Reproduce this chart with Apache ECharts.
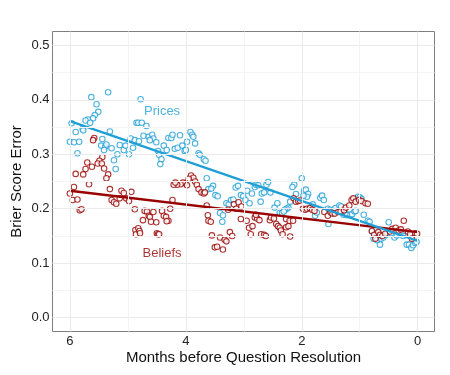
<!DOCTYPE html>
<html>
<head>
<meta charset="utf-8">
<script src="https://cdn.jsdelivr.net/npm/echarts@6/dist/echarts.min.js"></script>
<style>
  html, body { margin: 0; padding: 0; background: #fff; }
  #chart { width: 450px; height: 375px; }
</style>
</head>
<body>
<div id="chart"></div>
<script>
// months before resolution, brier error
var prices = [
  [5.34,0.414],[5.63,0.405],[5.54,0.392],[5.51,0.378],[5.57,0.372],[5.60,0.366],[5.69,0.364],[5.73,0.362],
  [5.97,0.357],[5.65,0.358],[5.78,0.347],[5.90,0.341],[5.77,0.344],[6.00,0.323],[5.93,0.322],[5.84,0.323],
  [5.87,0.302],[5.44,0.328],[5.46,0.316],[5.39,0.314],[5.37,0.318],[5.31,0.342],[5.28,0.311],[5.41,0.308],
  [5.14,0.317],[5.18,0.300],[5.24,0.289],[5.21,0.273],[5.07,0.308],[5.04,0.316],[4.98,0.300],[4.95,0.329],
  [4.91,0.312],[4.88,0.326],[4.85,0.358],
  [4.78,0.401],[4.82,0.358],[4.76,0.358],[4.68,0.352],[4.73,0.334],[4.64,0.332],[4.58,0.336],[4.56,0.329],
  [4.62,0.326],[4.81,0.324],[4.51,0.322],[4.48,0.306],[4.46,0.299],[4.42,0.291],[4.44,0.282],[4.38,0.316],
  [4.33,0.308],[4.30,0.330],[4.25,0.330],[4.23,0.336],[4.19,0.310],[4.14,0.312],[4.10,0.335],[4.06,0.316],
  [4.02,0.306],[4.00,0.308],[3.98,0.323],[3.92,0.341],[3.89,0.336],[3.87,0.332],[3.84,0.320],[3.78,0.302],
  [3.76,0.299],[3.69,0.291],[3.66,0.288],[3.64,0.256],[3.61,0.236],
  [3.53,0.242],[3.56,0.237],[3.49,0.225],[3.45,0.223],[3.41,0.192],[3.36,0.188],[3.37,0.176],[3.30,0.210],
  [3.26,0.208],[3.22,0.216],[3.18,0.217],[3.14,0.239],[3.10,0.242],[3.05,0.225],[3.01,0.223],[2.97,0.216],
  [2.94,0.233],[2.90,0.210],[2.86,0.228],[2.81,0.240],[2.79,0.244],[2.75,0.243],[2.71,0.213],[2.69,0.228],
  [2.65,0.230],[2.61,0.244],[2.58,0.249],[2.54,0.230],[2.47,0.202],[2.42,0.210],[2.38,0.192],[2.34,0.192],
  [2.00,0.256],[2.13,0.244],[2.16,0.240],[2.10,0.227],[2.20,0.213],[2.23,0.202],[2.26,0.200],[2.29,0.198],
  [2.31,0.195],[1.96,0.233],[1.93,0.235],[1.89,0.227],[1.91,0.222],[1.97,0.224],[1.81,0.208],[1.77,0.187],
  [1.74,0.193],[1.68,0.220],[1.65,0.224],[1.62,0.216],[1.55,0.200],[1.54,0.172],[1.51,0.198],[1.45,0.197],
  [1.42,0.201],[1.35,0.206],[1.32,0.204],[1.28,0.189],[1.24,0.191],[1.22,0.188],[1.16,0.189],[1.13,0.190],
  [1.09,0.195],
  [1.07,0.196],[1.03,0.222],[1.00,0.221],[0.97,0.218],[0.93,0.189],[0.86,0.178],[0.83,0.176],[0.79,0.158],
  [0.76,0.145],[0.72,0.147],[0.70,0.142],[0.65,0.134],[0.63,0.145],[0.59,0.147],[0.54,0.152],[0.52,0.155],
  [0.50,0.175],[0.45,0.155],[0.40,0.147],[0.36,0.151],[0.31,0.155],[0.28,0.155],[0.25,0.150],[0.19,0.134],
  [0.15,0.134],[0.11,0.128],[0.08,0.133],[0.04,0.137],[0.02,0.139]
];

var beliefs = [
  [5.58,0.330],[5.60,0.326],[5.44,0.295],[5.49,0.288],[5.52,0.283],[5.45,0.283],[5.70,0.285],[5.62,0.277],
  [5.73,0.273],[5.77,0.263],[5.90,0.264],[5.41,0.274],[5.34,0.263],[5.37,0.256],[5.67,0.245],[5.93,0.240],
  [6.00,0.228],[5.95,0.216],[5.87,0.217],[5.83,0.197],[5.80,0.199],[5.31,0.236],[5.28,0.216],[5.24,0.212],
  [5.20,0.209],[5.14,0.219],[5.11,0.233],[5.07,0.229],[5.03,0.219],[4.98,0.214],[4.94,0.231],[4.88,0.199],
  [4.87,0.161],[4.86,0.153],
  [3.91,0.261],[3.87,0.257],[3.95,0.255],[4.01,0.247],[4.05,0.248],[4.09,0.245],[4.15,0.244],[4.21,0.244],
  [4.18,0.248],[3.98,0.243],[3.84,0.250],[3.81,0.244],[3.78,0.236],[3.73,0.230],[3.69,0.228],[3.67,0.230],
  [4.23,0.216],[4.27,0.200],[4.71,0.196],[4.67,0.195],[4.74,0.179],[4.64,0.187],[4.62,0.185],[4.56,0.194],
  [4.60,0.176],[4.51,0.175],[4.41,0.196],[4.38,0.187],[4.34,0.185],[4.30,0.178],[4.33,0.177],[4.82,0.164],
  [4.80,0.159],[4.79,0.155],[4.50,0.155],[4.48,0.153],[4.46,0.153],[3.64,0.206],[3.62,0.188],[3.61,0.178],
  [3.57,0.176],[3.55,0.151],[3.50,0.129],[3.46,0.130],[3.41,0.147],[3.36,0.125],[3.33,0.143],[3.30,0.140],
  [3.24,0.157],[3.20,0.150],[3.27,0.198],[3.17,0.208],[3.13,0.200],[3.09,0.212],[3.04,0.204],[3.05,0.181],
  [2.95,0.178],[2.91,0.165],[2.88,0.153],[2.85,0.168],[2.81,0.184],[2.77,0.182],[2.73,0.179],[2.79,0.189],
  [2.70,0.153],[2.65,0.152],[2.62,0.150],[2.55,0.179],[2.53,0.184],[2.48,0.182],[2.44,0.172],[2.41,0.168],
  [2.38,0.165],[2.36,0.160],
  [2.33,0.153],[2.27,0.166],[2.23,0.168],[2.20,0.149],[2.27,0.181],[2.21,0.178],[2.15,0.178],[2.14,0.219],
  [2.10,0.213],[2.06,0.214],[2.03,0.215],[1.98,0.200],[1.94,0.198],[1.91,0.200],[1.86,0.201],[1.82,0.198],
  [1.78,0.196],[1.61,0.194],[1.55,0.187],[1.50,0.193],[1.47,0.191],[1.43,0.191],[1.37,0.194],[1.33,0.195],
  [1.27,0.197],[1.24,0.202],[1.18,0.206],[1.14,0.216],[1.11,0.219],
  [1.07,0.213],[1.01,0.216],[0.97,0.214],[0.90,0.210],[0.86,0.209],[0.79,0.159],[0.75,0.152],[0.73,0.145],
  [0.68,0.157],[0.65,0.152],[0.61,0.150],[0.56,0.154],[0.48,0.158],[0.44,0.163],[0.38,0.165],[0.33,0.160],
  [0.29,0.162],[0.24,0.178],[0.17,0.158],[0.13,0.153],[0.10,0.145],[0.04,0.155],[0.01,0.154]
];

// fitted lines (endpoints)
var pricesFit = [[6, 0.361], [0, 0.141]];
var beliefsFit = [[6, 0.233], [0, 0.157]];

var yTicks = [0, 0.1, 0.2, 0.3, 0.4, 0.5];
var yMinor = [0.05, 0.15, 0.25, 0.35, 0.45];
var xTicks = [6, 4, 2, 0];
var xMinor = [5, 3, 1];

var blue = '#1f9fd6';
var red = '#990000';

var chart = echarts.init(document.getElementById('chart'));

var gridLines = [];
yTicks.forEach(function (v) { gridLines.push({ yAxis: v, lineStyle: { color: '#ebebeb' } }); });
yMinor.forEach(function (v) { gridLines.push({ yAxis: v, lineStyle: { color: '#f4f4f4' } }); });
xTicks.forEach(function (v) { gridLines.push({ xAxis: v, lineStyle: { color: '#ebebeb' } }); });
xMinor.forEach(function (v) { gridLines.push({ xAxis: v, lineStyle: { color: '#f4f4f4' } }); });

var option = {
  animation: false,
  textStyle: { fontFamily: 'Liberation Sans' },
  grid: { left: 52.5, right: 15.5, top: 31.5, bottom: 43.5, show: true, borderColor: '#7f7f7f', borderWidth: 1, z: 5,
    outerBoundsMode: 'none' },
  xAxis: {
    type: 'value', inverse: true, min: -0.29, max: 6.3,
    name: 'Months before Question Resolution', nameLocation: 'middle', nameGap: 19,
    nameMoveOverlap: false,
    nameTextStyle: { fontSize: 15, color: '#111' },
    axisLine: { show: false },
    axisTick: { show: true, length: 4, customValues: xTicks, lineStyle: { color: '#444' } },
    axisLabel: { customValues: xTicks, fontSize: 13, color: '#222', margin: 3 },
    splitLine: { show: false }
  },
  yAxis: {
    type: 'value', min: -0.0256, max: 0.5256,
    name: 'Brier Score Error', nameLocation: 'middle', nameGap: 28,
    nameMoveOverlap: false,
    nameTextStyle: { fontSize: 15, color: '#111' },
    axisLine: { show: false },
    axisTick: { show: true, length: 4, customValues: yTicks, lineStyle: { color: '#444' } },
    axisLabel: { customValues: yTicks, fontSize: 13, color: '#222', margin: 3,
      formatter: function (v) { return v.toFixed(1); } },
    splitLine: { show: false }
  },
  series: [
    {
      type: 'line', data: [], silent: true, z: 0,
      markLine: { silent: true, symbol: 'none', label: { show: false },
        lineStyle: { type: 'solid', width: 1 }, data: gridLines }
    },
    {
      name: 'Prices', type: 'scatter', data: prices, symbol: 'circle', symbolSize: 5.5,
      itemStyle: { color: '#fff', borderColor: blue, borderWidth: 1.1 }, z: 2
    },
    {
      name: 'Beliefs', type: 'scatter', data: beliefs, symbol: 'circle', symbolSize: 5.5,
      itemStyle: { color: '#fff', borderColor: red, borderWidth: 1.1 }, z: 2
    },
    {
      type: 'line', data: beliefsFit, symbol: 'none', z: 3,
      lineStyle: { color: red, width: 2.3 }
    },
    {
      type: 'line', data: pricesFit, symbol: 'none', z: 3,
      lineStyle: { color: blue, width: 2.3 }
    },
    {
      type: 'scatter', symbolSize: 0, z: 4, silent: true,
      data: [
        { value: [4.41, 0.379], label: { show: true, formatter: 'Prices', color: blue } },
        { value: [4.41, 0.117], label: { show: true, formatter: 'Beliefs', color: red } }
      ],
      label: { position: 'inside', fontSize: 13 }
    }
  ]
};

chart.setOption(option);
</script>
</body>
</html>
